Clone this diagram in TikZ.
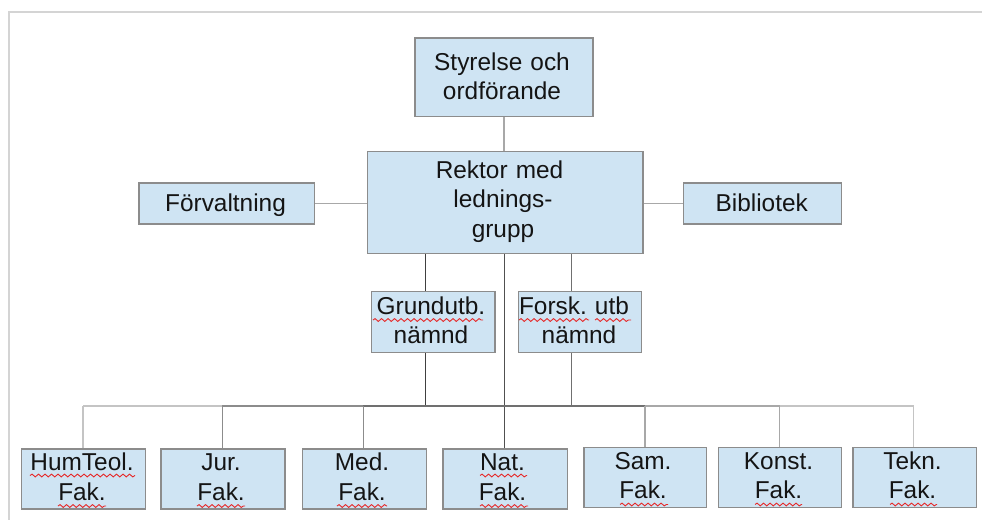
\documentclass[tikz,border=0pt]{standalone}
\usepackage{fontspec}
\setmainfont{Liberation Sans}
\usetikzlibrary{decorations.pathmorphing}
\frenchspacing
\definecolor{boxfill}{RGB}{207,228,243}
\definecolor{boxline}{RGB}{140,140,140}
\definecolor{framec}{RGB}{212,212,212}
\definecolor{lnlight}{RGB}{196,196,196}
\definecolor{lnside}{RGB}{168,168,168}
\definecolor{lnmed}{RGB}{140,140,140}
\definecolor{lnmd}{RGB}{112,112,112}
\definecolor{lndark}{RGB}{80,80,80}
\definecolor{lngrund}{RGB}{64,64,64}
\definecolor{wavred}{RGB}{230,40,40}
\begin{document}
\begin{tikzpicture}[x=1pt,y=-1pt,
  box/.style={draw=boxline, fill=boxfill, line width=1.4pt, inner sep=0pt, anchor=north west},
  txt/.style={font=\fontsize{24.4}{29.7}\selectfont, text=black!92, align=center, anchor=base, inner sep=0pt, text width=220pt},
  ln/.style={line width=1.2pt, draw=#1},
  wav/.style={draw=wavred, line width=0.9pt, decorate, decoration={snake, segment length=6.5pt, amplitude=1.4pt}},
  framel/.style={draw=framec, line width=2pt}]
\useasboundingbox (0,0) rectangle (982,520);
\draw[framel] (982,12) -- (9,12) -- (9,520);

% named coordinates for the tree
\coordinate (gx) at (425.3,0);
\coordinate (cx) at (504.3,0);
\coordinate (fx) at (571.3,0);
\coordinate (d1) at (83,406);
\coordinate (d2) at (222.3,406);
\coordinate (d3) at (363.3,406);
\coordinate (d4) at (504.3,406);
\coordinate (d5) at (645,406);
\coordinate (d6) at (779.7,406);
\coordinate (d7) at (913.7,406);

% boxes
\node[box, minimum width=178pt, minimum height=78.7pt] (sty) at (414.3,37.3) {};
\node[box, minimum width=275.6pt, minimum height=101.8pt] (rek) at (366.7,150.7) {};
\node[box, minimum width=175.7pt, minimum height=41pt] (forv) at (138.3,182.3) {};
\node[box, minimum width=158pt, minimum height=41pt] (bib) at (682.7,182.3) {};
\node[box, minimum width=123.3pt, minimum height=61pt] (grund) at (371,290.7) {};
\node[box, minimum width=123pt, minimum height=61pt] (forsk) at (517.7,290.7) {};
\node[box, minimum width=124pt, minimum height=60pt] (hum) at (21,448.3) {};
\node[box, minimum width=124pt, minimum height=60pt] (jur) at (160.3,448.3) {};
\node[box, minimum width=124pt, minimum height=60pt] (med) at (301.7,448.3) {};
\node[box, minimum width=124.4pt, minimum height=60pt] (nat) at (442.3,448.3) {};
\node[box, minimum width=122.4pt, minimum height=60.3pt] (sam) at (583.3,446.7) {};
\node[box, minimum width=123pt, minimum height=60.3pt] (konst) at (717.7,446.7) {};
\node[box, minimum width=123.4pt, minimum height=60.3pt] (tekn) at (852.3,446.7) {};

% connectors
\draw[ln=lnside] (sty.south) -- (sty.south |- rek.north);
\draw[ln=lnside] (forv.east) -- (forv.east -| rek.west);
\draw[ln=lnside] (bib.west -| rek.east) -- (bib.west);
\draw[ln=lngrund] (rek.south -| gx) -- (grund.north -| gx);
\draw[ln=lngrund] (grund.south -| gx) -- (d3 -| gx);
\draw[ln=lndark] (rek.south -| cx) -- (nat.north -| cx);
\draw[ln=lnmd] (rek.south -| fx) -- (forsk.north -| fx);
\draw[ln=lnmd] (forsk.south -| fx) -- (d1 -| fx);
\draw[ln=lnlight] (d1) -- (d2);
\draw[ln=lnmed] (d2) -- (d3);
\draw[ln=lnmd] (d3) -- (d5);
\draw[ln=lnside] (d5) -- (d6);
\draw[ln=lnlight] (d6) -- (d7);
\draw[ln=lnlight] (d1) -- (hum.north -| d1);
\draw[ln=lnmed] (d2) -- (jur.north -| d2);
\draw[ln=lnmed] (d3) -- (med.north -| d3);
\draw[ln=lnside] (d5) -- (sam.north -| d5);
\draw[ln=lnside] (d6) -- (konst.north -| d6);
\draw[ln=lnlight] (d7) -- (tekn.north -| d7);

% texts
\node[txt] (sty-t) at (502,70) {Styrelse och\\ordförande};
\node[txt] (rek-t) at (503,178) {Rektor med\hspace{7pt}\null\\lednings-\\grupp};
\node[txt] (forv-t) at (225.5,211.7) {Förvaltning};
\node[txt] (bib-t) at (761.7,211.7) {Bibliotek};
\node[txt] (grund-t) at (431,314) {Grundutb.\\nämnd};
\node[txt] (forsk-t) at (579,314) {Forsk. utb\hspace{10pt}\null\\nämnd};
\node[txt] (hum-t) at (82,470.7) {HumTeol.\\Fak.};
\node[txt] (jur-t) at (221,470.7) {Jur.\\Fak.};
\node[txt] (med-t) at (362,470.7) {Med.\\Fak.};
\node[txt] (nat-t) at (502.5,470.7) {Nat.\\Fak.};
\node[txt] (sam-t) at (643,469.1) {Sam.\\Fak.};
\node[txt] (konst-t) at (778.5,469.1) {Konst.\\Fak.};
\node[txt] (tekn-t) at (912.5,469.1) {Tekn.\\Fak.};

% spell-check underlines
\draw[wav] (373,320) -- (483,320);
\draw[wav] (519,320) -- (589,320);
\draw[wav] (595,320) -- (631,320);
\draw[wav] (30,475.5) -- (135,475.5);
\draw[wav] (58,506) -- (106,506);
\draw[wav] (197,506) -- (245,506);
\draw[wav] (337,506) -- (387,506);
\draw[wav] (480,475.5) -- (527,475.5);
\draw[wav] (480,506) -- (528,506);
\draw[wav] (620,504.5) -- (668,504.5);
\draw[wav] (755,504.5) -- (802,504.5);
\draw[wav] (890,504.5) -- (937,504.5);
\end{tikzpicture}
\end{document}
